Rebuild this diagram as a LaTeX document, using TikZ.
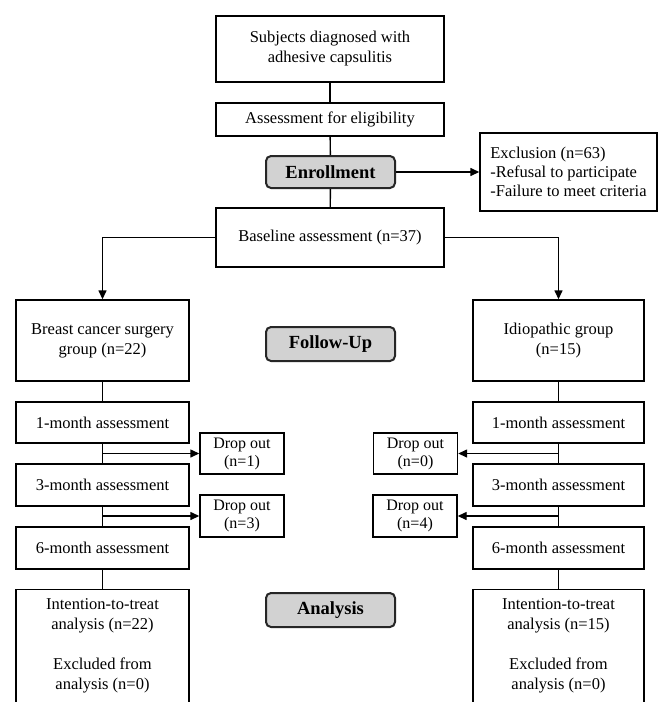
\documentclass[tikz,border=0pt]{standalone}
\usepackage{fontspec}
\setmainfont{Liberation Serif}
\usetikzlibrary{arrows.meta}
\begin{document}
\begin{tikzpicture}[x=1pt,y=-1pt,
 box/.style={draw, line width=1.4pt, inner sep=0pt, align=center, font=\fontsize{16.5}{20}\selectfont},
 dropbox/.style={draw, line width=1.4pt, inner sep=0pt, align=center, minimum width=84pt, font=\fontsize{16}{18}\selectfont},
 phase/.style={draw=black!85, line width=2pt, rounded corners=5pt, fill=gray!35, minimum width=129pt, minimum height=32pt, inner sep=0pt, font=\fontsize{18.5}{22}\selectfont\bfseries},
 conn/.style={line width=1.4pt},
 arr/.style={line width=1.4pt, -{Triangle[length=9pt,width=8pt]}}]
\useasboundingbox (0,0) rectangle (660,702);
\fill[white] (0,0) rectangle (660,702);

% top column
\node[box, minimum width=228pt, minimum height=66pt] (s1) at (330,49) {Subjects diagnosed with\\adhesive capsulitis};
\node[box, minimum width=228pt, minimum height=33pt] (s2) at (330,119.5) {Assessment for eligibility};
\node[phase] (enr) at (330.5,172) {Enrollment};
\node[box, minimum width=177pt, minimum height=78pt, align=left, font=\fontsize{16.5}{19}\selectfont] (excl) at (568.5,172) {Exclusion (n=63)\\-Refusal to participate\\-Failure to meet criteria};
\node[box, minimum width=228pt, minimum height=59pt] (base) at (330,237.5) {Baseline assessment (n=37)};

% groups
\node[box, minimum width=173pt, minimum height=81pt] (gl) at (102.5,340.5) {Breast cancer surgery\\group (n=22)};
\node[box, minimum width=171pt, minimum height=81pt] (gr) at (558.5,340.5) {Idiopathic group\\(n=15)};
\node[phase, minimum height=34pt] (fu) at (330.5,344) {Follow-Up};

% left column
\node[box, minimum width=173pt, minimum height=41pt] (l1) at (102.5,422.5) {1-month assessment};
\node[box, minimum width=173pt, minimum height=42pt] (l3) at (102.5,485) {3-month assessment};
\node[box, minimum width=173pt, minimum height=42pt] (l6) at (102.5,548) {6-month assessment};
\node[box, anchor=north, minimum width=173pt, inner ysep=9pt] (la) at (102.5,589) {Intention-to-treat\\analysis (n=22)\\[20pt]Excluded from\\analysis (n=0)\rule[-40pt]{0pt}{40pt}};

% right column
\node[box, minimum width=171pt, minimum height=41pt] (r1) at (558.5,422.5) {1-month assessment};
\node[box, minimum width=171pt, minimum height=42pt] (r3) at (558.5,485) {3-month assessment};
\node[box, minimum width=171pt, minimum height=42pt] (r6) at (558.5,548) {6-month assessment};
\node[box, anchor=north, minimum width=171pt, inner ysep=9pt] (ra) at (558.5,589) {Intention-to-treat\\analysis (n=15)\\[20pt]Excluded from\\analysis (n=0)\rule[-40pt]{0pt}{40pt}};

\node[phase, minimum height=34pt] (an) at (330.5,610) {Analysis};

% drop outs
\node[dropbox, minimum height=41pt] (d1) at (242,453.5) {Drop out\\(n=1)};
\node[dropbox, minimum height=42pt] (d3) at (242,516) {Drop out\\(n=3)};
\node[dropbox, minimum height=41pt] (d0) at (415.5,453.5) {Drop out\\(n=0)};
\node[dropbox, minimum height=42pt] (d4) at (415,516) {Drop out\\(n=4)};

% connectors
\draw[conn] (s1) -- (s2);
\draw[conn] (s2) -- (enr);
\draw[conn] (enr) -- (base);
\draw[arr] (enr) -- (excl);
\draw[arr] (base.west) -| (gl.north);
\draw[arr] (base.east) -| (gr.north);
\draw[conn] (gl) -- (l1);
\draw[conn] (l1) -- (l3);
\draw[conn] (l3) -- (l6);
\draw[conn] (l6.south) -- (la.north);
\draw[conn] (gr) -- (r1);
\draw[conn] (r1) -- (r3);
\draw[conn] (r3) -- (r6);
\draw[conn] (r6.south) -- (ra.north);
\draw[arr] (l1.south |- d1.west) -- (d1.west);
\draw[arr] (l3.south |- d3.west) -- (d3.west);
\draw[arr] (r1.south |- d0.east) -- (d0.east);
\draw[arr] (r3.south |- d4.east) -- (d4.east);
\end{tikzpicture}
\end{document}
